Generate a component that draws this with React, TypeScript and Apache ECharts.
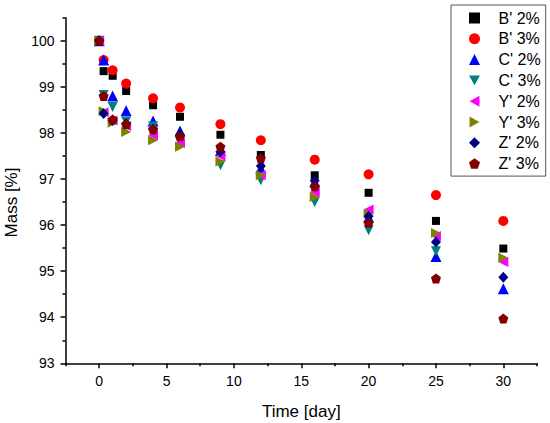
import React, { useEffect, useRef } from "react";
import * as echarts from "echarts";

const days = [0, 0.33, 1, 2, 4, 6, 9, 12, 16, 20, 25, 30];

const seriesNames = ["B' 2%", "B' 3%", "C' 2%", "C' 3%", "Y' 2%", "Y' 3%", "Z' 2%", "Z' 3%"];

const b2 = [100, 99.34, 99.24, 98.91, 98.6, 98.35, 97.96, 97.52, 97.08, 96.7, 96.09, 95.49];
const b3 = [100, 99.58, 99.36, 99.07, 98.75, 98.55, 98.19, 97.84, 97.42, 97.1, 96.65, 96.09];
const c2 = [100, 99.58, 98.8, 98.48, 98.26, 98.04, 97.62, 97.23, 96.94, 96.17, 95.32, 94.62];
const c3 = [100, 98.82, 98.56, 98.25, 98.14, 97.81, 97.3, 96.97, 96.5, 95.89, 95.43, null];
const y2 = [100, 98.45, 98.27, 98.15, 97.95, 97.78, 97.5, 97.08, 96.72, 96.34, 95.76, 95.2];
const y3 = [100, 98.47, 98.22, 98.02, 97.84, 97.7, 97.38, 97.08, 96.61, 96.25, 95.83, 95.29];
const z2 = [100, 98.42, 98.27, 98.2, 98.08, 97.96, 97.59, 97.28, 96.96, 96.19, 95.63, 94.87];
const z3 = [100, 98.8, 98.29, 98.19, 98.08, 97.93, 97.7, 97.45, 96.84, 96.05, 94.84, 93.97];

const xMajorTicks = [0, 5, 10, 15, 20, 25, 30];
const xMinorTicks = [-2.5, 2.5, 7.5, 12.5, 17.5, 22.5, 27.5, 32.5];
const yMajorTicks = [93, 94, 95, 96, 97, 98, 99, 100];
const yMinorTicks = [93.5, 94.5, 95.5, 96.5, 97.5, 98.5, 99.5, 100.5];

const FONT = 'Arial, "Liberation Sans", sans-serif';

const styles = [
  { symbol: "rect", size: 8, color: "#000000" },
  { symbol: "circle", size: 10, color: "#FF0000" },
  { symbol: "triangle", size: 11, color: "#0000FF" },
  { symbol: "path://M0,0L10,0L5,9Z", size: 10, color: "#008080" },
  { symbol: "path://M9,0L9,10L0,5Z", size: 10, color: "#FF00FF" },
  { symbol: "path://M0,0L9,5L0,10Z", size: 10, color: "#808000" },
  { symbol: "diamond", size: [10, 11], color: "#000080" },
  { symbol: "path://M5,0L9.76,3.45L7.94,9.05L2.06,9.05L0.24,3.45Z", size: 10, color: "#800000" },
];

const allValues = [b2, b3, c2, c3, y2, y3, z2, z3];

export default function App() {
  const ref = useRef<HTMLDivElement>(null);

  useEffect(() => {
    document.body.style.margin = "0";
    if (!ref.current) return;
    const chart = echarts.init(ref.current, undefined, { renderer: "svg" });

    const axisLineStyle = { color: "#000", width: 1.5 };

    const option: any = {
      animation: false,
      backgroundColor: "#fff",
      textStyle: { fontFamily: FONT },
      grid: {
        left: 65.5,
        right: 13,
        top: 17.7,
        bottom: 59.7,
        containLabel: false,
        outerBoundsMode: "none",
      },
      legend: {
        orient: "vertical",
        left: 451,
        top: 5,
        data: seriesNames,
        itemWidth: 11,
        itemHeight: 11,
        itemGap: 4.8,
        padding: [5, 5, 4.5, 18],
        borderColor: "#555",
        borderWidth: 1,
        textStyle: {
          fontSize: 16,
          color: "#000",
          fontFamily: FONT,
          lineHeight: 16,
          padding: [0, 0, 0, 13.5],
        },
      },
      xAxis: [
        {
          type: "value",
          min: -2.5,
          max: 32.5,
          position: "bottom",
          name: "Time [day]",
          nameLocation: "middle",
          nameGap: 40,
          nameTextStyle: { fontSize: 17, color: "#000", fontFamily: FONT },
          axisLine: { show: true, onZero: false, lineStyle: axisLineStyle },
          axisTick: { show: true, customValues: xMajorTicks, length: 5, lineStyle: axisLineStyle },
          axisLabel: { customValues: xMajorTicks, fontSize: 14, color: "#000", margin: 11, fontFamily: FONT },
          splitLine: { show: false },
        },
        {
          type: "value",
          min: -2.5,
          max: 32.5,
          position: "bottom",
          axisLine: { show: false, onZero: false },
          axisTick: { show: true, customValues: xMinorTicks, length: 3, lineStyle: axisLineStyle },
          axisLabel: { show: false },
          splitLine: { show: false },
        },
      ],
      yAxis: [
        {
          type: "value",
          min: 93,
          max: 100.5,
          position: "left",
          name: "Mass [%]",
          nameLocation: "middle",
          nameGap: 43,
          nameTextStyle: { fontSize: 17, color: "#000", fontFamily: FONT, padding: [0, 24, 0, 0] },
          axisLine: { show: true, onZero: false, lineStyle: axisLineStyle },
          axisTick: { show: true, customValues: yMajorTicks, length: 5, lineStyle: axisLineStyle },
          axisLabel: { customValues: yMajorTicks, fontSize: 14, color: "#000", margin: 11, fontFamily: FONT },
          splitLine: { show: false },
        },
        {
          type: "value",
          min: 93,
          max: 100.5,
          position: "left",
          axisLine: { show: false, onZero: false },
          axisTick: { show: true, customValues: yMinorTicks, length: 3, lineStyle: axisLineStyle },
          axisLabel: { show: false },
          splitLine: { show: false },
        },
      ],
      series: seriesNames.map((name, i) => ({
        name,
        type: "scatter",
        xAxisIndex: 0,
        yAxisIndex: 0,
        symbol: styles[i].symbol,
        symbolSize: styles[i].size,
        itemStyle: { color: styles[i].color, opacity: 1 },
        data: days
          .map((d, j) => [d, allValues[i][j]])
          .filter((p) => p[1] !== null),
      })),
    };

    chart.setOption(option);
    return () => chart.dispose();
  }, []);

  return <div ref={ref} style={{ width: 550, height: 423 }} />;
}
